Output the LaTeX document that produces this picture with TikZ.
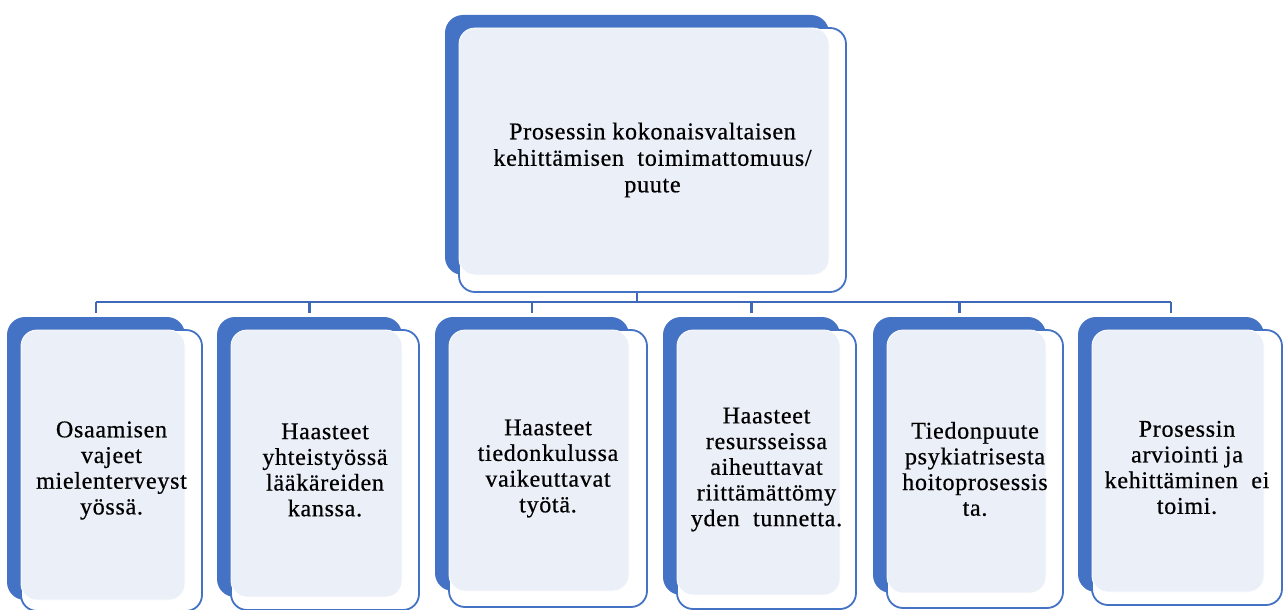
\documentclass[tikz,border=0pt]{standalone}
\usepackage{fontspec}
\setmainfont{Liberation Serif}[LetterSpace=3,FakeBold=0.6]
\usetikzlibrary{fit}
\definecolor{accent}{RGB}{68,114,196}
\definecolor{lightfill}{RGB}{234,239,248}
\definecolor{linkblue}{RGB}{64,104,184}
\pgfdeclarelayer{bg}
\pgfsetlayers{bg,main}
\tikzset{
  backbox/.style={fill=accent, draw=none, rounded corners=18pt, inner sep=0pt},
  frontbox/.style={fill=white, draw=accent, line width=1.8pt, rounded corners=16pt, inner sep=0pt},
  lightbox/.style={fill=lightfill, draw=white, line width=0.8pt, rounded corners=16pt, inner sep=0pt},
  boxtext/.style={align=center, font=\fontsize{24}{25.7}\selectfont, inner sep=0pt, text=black},
  toptext/.style={boxtext, font=\fontsize{24}{26.5}\selectfont},
  link/.style={draw=linkblue, line width=2.6pt},
}
% #1 name, #2 bx1, #3 by1, #4 bx2, #5 by2, #6 fx2, #7 fy2, #8 text style, #9 text
\newcommand\sabox[9]{%
  \node[backbox, fit={(#2,#3) (#4,#5)}] (#1back) {};
  \node[frontbox, fit={(#2+14,#3+13) (#6,#7)}] (#1front) {};
  \node[lightbox, fit={(#2+14,#3+13) (#4,#5)}] (#1light) {};
  \node[#8] (#1text) at (#1front.center) {#9};
}
\begin{document}
\begin{tikzpicture}[x=1pt,y=-1pt]
\useasboundingbox (0,0) rectangle (1283,610);
\sabox{top}{445}{15}{829}{275}{846}{292}{toptext}{Prosessin kokonaisvaltaisen\\kehittämisen\ \ toimimattomuus/\\puute}
\sabox{ca}{7}{317}{185}{600}{202}{611}{boxtext}{Osaamisen\\vajeet\\mielenterveyst\\yössä.}
\sabox{cb}{217}{317}{402}{597}{419}{610}{boxtext}{Haasteet\\yhteistyössä\\lääkäreiden\\kanssa.}
\sabox{cc}{435}{317}{629}{591}{647}{607}{boxtext}{Haasteet\\tiedonkulussa\\vaikeuttavat\\työtä.}
\sabox{cd}{663}{317}{840}{595}{856}{609}{boxtext}{Haasteet\\resursseissa\\aiheuttavat\\riittämättömy\\yden\ \ tunnetta.}
\sabox{ce}{873}{317}{1046}{593}{1063}{608}{boxtext}{Tiedonpuute\\psykiatrisesta\\hoitoprosessis\\ta.}
\sabox{cf}{1078}{317}{1264}{592}{1282}{605}{boxtext}{Prosessin\\arviointi ja\\kehittäminen\ \ ei\\toimi.}
\coordinate (bus) at (0,302);
\begin{pgfonlayer}{bg}
  \draw[link] (topback.south) -- (topback.south |- bus);
  \draw[link] (caback.north |- bus) -- (cfback.north |- bus);
  \foreach \c in {ca,cb,cc,cd,ce,cf}{
    \draw[link, shorten >=4pt] (\c back.north |- bus) -- (\c back.north);
  }
\end{pgfonlayer}
\end{tikzpicture}
\end{document}
